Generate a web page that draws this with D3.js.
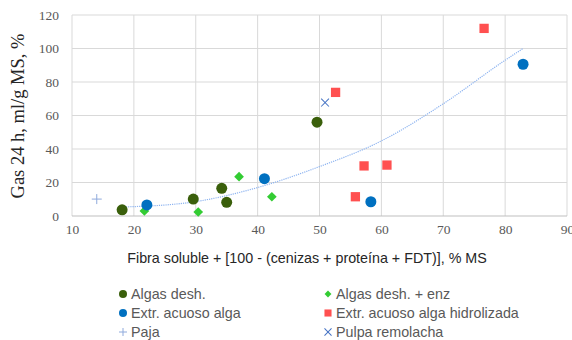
<!DOCTYPE html>
<html><head><meta charset="utf-8">
<script src="https://cdn.jsdelivr.net/npm/d3@7"></script>
<style>body{margin:0;background:#fff}svg{display:block}</style>
</head><body>
<script>
const xTicks = [10,20,30,40,50,60,70,80,90];
const yTicks = [0,20,40,60,80,100,120];
const algasDesh = [[18.1,3.7],[29.6,10.1],[34.2,16.5],[35.0,8.2],[49.6,56]];
const algasEnz = [[21.7,3.0],[30.4,2.4],[37.0,23.5],[42.3,11.5]];
const extrAcuoso = [[22.1,6.6],[41.1,22.3],[58.3,8.5],[82.9,90.6]];
const extrHidro = [[52.6,73.8],[57.2,29.9],[60.9,30.4],[55.8,11.5],[76.6,112]];
const paja = [[14.0,10.1]];
const pulpa = [[50.9,67.7]];
const trend = [[18,5.4],[20,5.6],[30,8.6],[40,17],[50,29.5],[60,44.8],[70,67],[80,93],[82.9,100]];
const legendLabels = ["Algas desh.","Algas desh. + enz","Extr. acuoso alga","Extr. acuoso alga hidrolizada","Paja","Pulpa remolacha"];

const W=572,H=340;
const svg=d3.select("body").append("svg").attr("width",W).attr("height",H);
const x=d3.scaleLinear().domain([10,90]).range([72,567]);
const y=d3.scaleLinear().domain([0,120]).range([216,15]);

svg.append("g").selectAll("line").data(xTicks).join("line")
  .attr("x1",d=>x(d)).attr("x2",d=>x(d)).attr("y1",y(0)).attr("y2",y(120))
  .attr("stroke","#d9d9d9").attr("stroke-width",1);
svg.append("g").selectAll("line").data(yTicks).join("line")
  .attr("x1",x(10)).attr("x2",x(90)).attr("y1",d=>y(d)).attr("y2",d=>y(d))
  .attr("stroke",d=>d===0?"#bfbfbf":"#d9d9d9").attr("stroke-width",1);

const serif="'Liberation Serif','Times New Roman',serif";
const sans="'Liberation Sans',Arial,sans-serif";
const xAxis=d3.axisBottom(x).tickValues(xTicks).tickSize(0).tickPadding(8);
const gx=svg.append("g").attr("transform",`translate(0,${y(0)})`).call(xAxis);
gx.select(".domain").remove();
gx.selectAll("text").attr("font-family",serif).attr("font-size",13.5).attr("fill","#595959");
const yAxis=d3.axisLeft(y).tickValues(yTicks).tickSize(0).tickPadding(8);
const gy=svg.append("g").attr("transform",`translate(${x(10)-5},0)`).call(yAxis);
gy.select(".domain").remove();
gy.selectAll("text").attr("font-family",serif).attr("font-size",13.5).attr("fill","#595959");

svg.append("path").datum(trend)
  .attr("d",d3.line().x(d=>x(d[0])).y(d=>y(d[1])).curve(d3.curveMonotoneX))
  .attr("fill","none").attr("stroke","#8eb4f0").attr("stroke-width",1.2).attr("stroke-dasharray","1.2,1");

function circles(data,color,r){
  svg.append("g").selectAll("circle").data(data).join("circle")
    .attr("cx",d=>x(d[0])).attr("cy",d=>y(d[1])).attr("r",r).attr("fill",color);
}
function symbols(data,type,size,color){
  svg.append("g").selectAll("path").data(data).join("path")
    .attr("transform",d=>`translate(${x(d[0])},${y(d[1])})`)
    .attr("d",d3.symbol().type(type).size(size)).attr("fill",color);
}
function cross(data,color,s,rot){
  const g=svg.append("g").selectAll("g").data(data).join("g")
    .attr("transform",d=>`translate(${x(d[0])},${y(d[1])}) rotate(${rot})`);
  g.append("line").attr("x1",-s).attr("x2",s).attr("y1",0).attr("y2",0).attr("stroke",color).attr("stroke-width",1);
  g.append("line").attr("x1",0).attr("x2",0).attr("y1",-s).attr("y2",s).attr("stroke",color).attr("stroke-width",1);
}
circles(algasDesh,"#3a5f0b",5.5);
symbols(algasEnz,d3.symbolDiamond2,60,"#33cc33");
circles(extrAcuoso,"#0070c0",5.5);
symbols(extrHidro,d3.symbolSquare2,110,"#ff5050");
cross(paja,"#8faadc",5,0);
cross(pulpa,"#4472c4",5.5,45);

svg.append("text").attr("x",307).attr("y",263).attr("text-anchor","middle")
  .attr("font-family",sans).attr("font-size",14.3).attr("fill","#262626")
  .text("Fibra soluble + [100 - (cenizas + proteína + FDT)], % MS");
svg.append("text").attr("transform","translate(24,116) rotate(-90)").attr("text-anchor","middle")
  .attr("font-family",serif).attr("font-size",18.5).attr("fill","#262626")
  .text("Gas 24 h, ml/g MS, %");

const legPos=[[123,294],[328,294],[123,313],[328,313],[123,332],[328,332]];
const leg=svg.append("g");
legendLabels.forEach((lab,i)=>{
  const [lx,ly]=legPos[i];
  const g=leg.append("g").attr("transform",`translate(${lx},${ly})`);
  if(i===0) g.append("circle").attr("r",4).attr("fill","#3a5f0b");
  if(i===1) g.append("path").attr("d",d3.symbol().type(d3.symbolDiamond2).size(30)).attr("fill","#33cc33");
  if(i===2) g.append("circle").attr("r",4).attr("fill","#0070c0");
  if(i===3) g.append("path").attr("d",d3.symbol().type(d3.symbolSquare2).size(64)).attr("fill","#ff5050");
  if(i===4){g.append("line").attr("x1",-4).attr("x2",4).attr("stroke","#8faadc");g.append("line").attr("y1",-4).attr("y2",4).attr("stroke","#8faadc");}
  if(i===5){const h=g.append("g").attr("transform","rotate(45)");h.append("line").attr("x1",-5).attr("x2",5).attr("stroke","#4472c4");h.append("line").attr("y1",-5).attr("y2",5).attr("stroke","#4472c4");}
  g.append("text").attr("x",8).attr("y",5).attr("font-family",sans)
    .attr("font-size",14.3).attr("fill","#595959").text(lab);
});
</script>
</body></html>
